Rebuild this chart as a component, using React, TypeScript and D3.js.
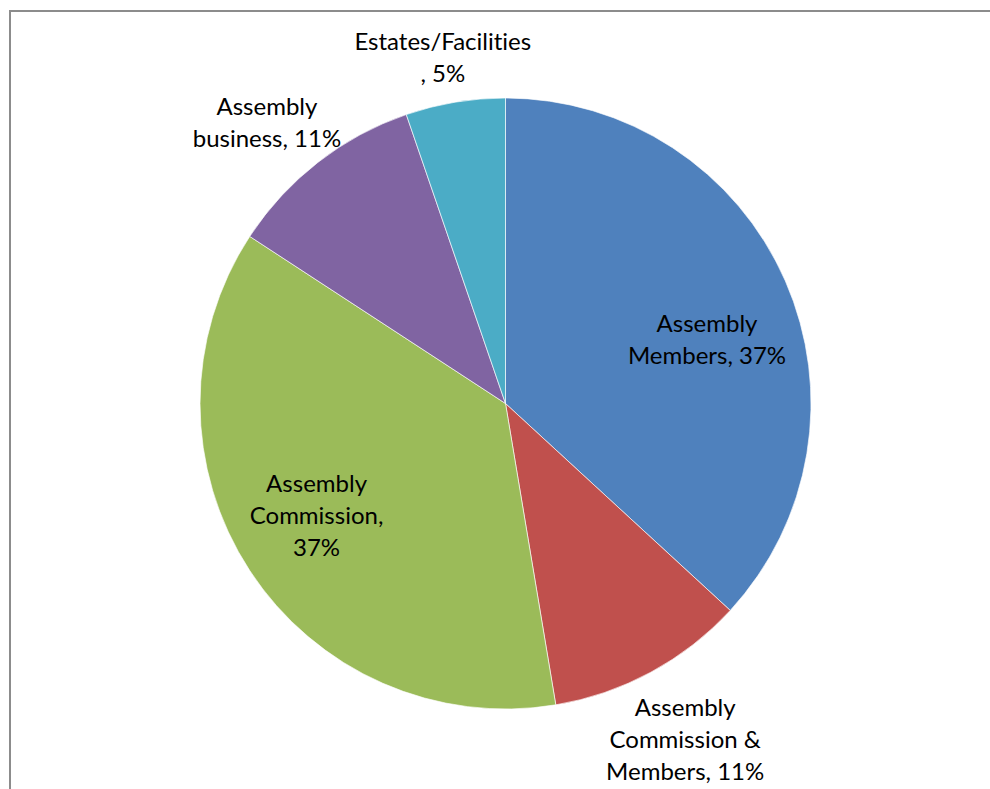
import React from "react"
import * as d3 from "d3"

// slice data, clockwise from 12 o'clock
const categories = [
    "Assembly Members",
    "Assembly Commission & Members",
    "Assembly Commission",
    "Assembly business",
    "Estates/Facilities",
]
const values = [7, 2, 7, 2, 1]
const colors = ["#4F81BD", "#C0504D", "#9BBB59", "#8064A2", "#4BACC6"]
// where Excel wrapped each data label ("|" = line break)
const labelTemplates = [
    "Assembly|Members, {p}%",
    "Assembly|Commission &|Members, {p}%",
    "Assembly|Commission,|{p}%",
    "Assembly|business, {p}%",
    "Estates/Facilities|, {p}%",
]

// label placement relative to each slice's mid angle
const labelRadius = [0.692, 1.248, 0.719, 1.205, 1.151]
const labelAngleShift = [6.1, 0.3, 2.5, -2.5, -0.8]

const W = 990
const H = 789
const cx = 505.5
const cy = 403.5
const R = 305.5
const lineH = 32
const fontSize = 24

export default function App() {
    const total = d3.sum(values)
    const pie = d3.pie<number>().sort(null).value((d) => d)
    const arcs = pie(values)
    const arcGen = d3.arc<d3.PieArcDatum<number>>().innerRadius(0).outerRadius(R)

    return (
        <svg width={W} height={H} style={{ position: "absolute", left: 0, top: 0 }}>
            <rect x={0} y={0} width={W} height={H} fill="white" />
            <rect x={10} y={11} width={W + 20} height={H + 20} fill="none" stroke="#8c8c8c" strokeWidth={2} />
            <g transform={`translate(${cx},${cy})`}>
                {arcs.map((a, i) => (
                    <path key={categories[i]} d={arcGen(a) || ""} fill={colors[i]} stroke="#ffffff" strokeWidth={0.8} strokeOpacity={0.8} />
                ))}
                {arcs.map((a, i) => {
                    const pct = Math.round((values[i] / total) * 100)
                    const lines = labelTemplates[i].replace("{p}", String(pct)).split("|")
                    const mid = (a.startAngle + a.endAngle) / 2 + (labelAngleShift[i] * Math.PI) / 180
                    const r = labelRadius[i] * R
                    const x = Math.sin(mid) * r
                    const y = -Math.cos(mid) * r
                    return (
                        <text key={"l" + i} x={x} y={y} textAnchor="middle" fontFamily="Lato, 'Open Sans', sans-serif" fontSize={fontSize} fill="#000" style={{ fontVariantLigatures: "none" }}>
                            {lines.map((ln, j) => (
                                <tspan key={j} x={x} y={y + (j - (lines.length - 1) / 2) * lineH + 8}>{ln}</tspan>
                            ))}
                        </text>
                    )
                })}
            </g>
        </svg>
    )
}
